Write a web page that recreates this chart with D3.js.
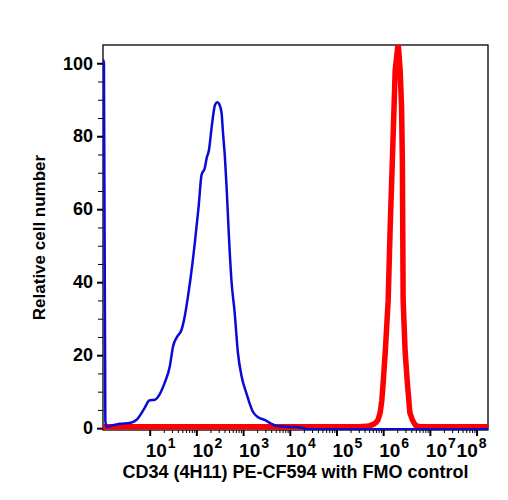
<!DOCTYPE html>
<meta charset="utf-8">
<script src="https://d3js.org/d3.v7.min.js"></script>
<body style="margin:0;background:#fff">
    <div id="viz"></div>
</body>
<style>
    text { font-family: "Liberation Sans", Arial, sans-serif; font-weight: bold; fill: #000; }
</style>
<script>
    // FMO control (blue) : log10 intensity and relative count
    let fmoLogX = [0.00, 0.02, 0.05, 0.08, 0.21, 0.36, 0.57, 0.72, 0.89, 0.99, 1.11, 1.21, 1.32, 1.43, 1.50,
        1.59, 1.68, 1.75, 1.82, 1.87, 1.96, 2.05, 2.11, 2.18, 2.22, 2.27, 2.32, 2.36, 2.40, 2.45, 2.49,
        2.54, 2.57, 2.61, 2.65, 2.69, 2.75, 2.82, 2.89, 2.97, 3.07, 3.21, 3.32, 3.46, 3.61, 3.72, 3.90,
        4.10, 4.25, 4.40, 5.50, 7.00, 8.30];
    let fmoY = [101, 100, 2, 0.4, 0.8, 1.2, 1.4, 2.3, 5.5, 7.6, 7.8, 9.2, 12.4, 16.9, 22.4,
        25.1, 26.9, 30.6, 36.1, 40.6, 50, 61, 69.4, 71.3, 74, 76.3, 81.7, 85.8, 88.6, 89.3, 88.8,
        86.3, 80.9, 74.4, 65.3, 54.3, 40.6, 31.6, 20.6, 14.1, 9.6, 4.5, 3.0, 2.3, 1.2, 0.6, 0.4,
        0.3, 0.1, -0.3, -0.3, -0.3, -0.3];

    // CD34 stained (red)
    let stainLogX = [0.00, 4.00, 5.50, 5.62, 5.72, 5.80, 5.85, 5.89, 5.935, 5.97, 6.00, 6.05, 6.107,
        6.15, 6.197, 6.233, 6.257, 6.321, 6.364, 6.394, 6.411, 6.428, 6.47, 6.518, 6.572, 6.625, 6.657,
        6.70, 6.78, 8.30];
    let stainY = [0.4, 0.4, 0.4, 0.5, 0.7, 1.1, 1.6, 2.3, 4.2, 7.5, 12.4, 22, 35,
        55, 73.5, 88, 98, 105.5, 98, 88, 73.5, 35, 21, 12.4, 4.2, 2.3, 1.5,
        0.7, 0.4, 0.4];

    let yTicks = [0, 20, 40, 60, 80, 100];
    let xDecades = [1, 2, 3, 4, 5, 6, 7, 8];
    let xTitle = "CD34 (4H11) PE-CF594 with FMO control";
    let yTitle = "Relative cell number";

    let width = 508, height = 500;
    let plot = {left: 103, right: 488, top: 45, bottom: 430};

    let svg = d3.select("#viz").append("svg")
        .attr("width", width)
        .attr("height", height);

    let x = d3.scaleLog()
        .domain([1, Math.pow(10, 8.245)])
        .range([plot.left, plot.right]);
    let y = d3.scaleLinear()
        .domain([-0.5, 105])
        .range([plot.bottom, plot.top]);

    svg.append("clipPath").attr("id", "clip")
        .append("rect")
        .attr("x", plot.left).attr("y", plot.top)
        .attr("width", plot.right - plot.left)
        .attr("height", plot.bottom - plot.top);

    // frame
    svg.append("rect")
        .attr("x", plot.left).attr("y", plot.top)
        .attr("width", plot.right - plot.left)
        .attr("height", plot.bottom - plot.top)
        .style("fill", "none")
        .style("stroke", "#000")
        .style("stroke-width", 1.3);

    // y axis
    let yMinor = d3.range(0, 101, 5).filter(d => d % 20 != 0);
    svg.append("g")
        .attr("transform", `translate(${plot.left},0)`)
        .call(d3.axisLeft(y).tickValues(yMinor).tickSize(5).tickFormat(""));
    let yAxis = svg.append("g")
        .attr("transform", `translate(${plot.left},0)`)
        .call(d3.axisLeft(y).tickValues(yTicks).tickSize(6).tickPadding(4));
    yAxis.selectAll(".tick line").attr("stroke-width", 2);
    yAxis.selectAll(".tick text")
        .style("font-size", "18px")
        .style("font-family", "Liberation Sans, Arial, sans-serif")
        .style("font-weight", "bold");
    svg.selectAll(".domain").remove();

    // x axis
    let xMinor = [];
    xDecades.forEach(function(d) {
        for (let k = 2; k < 10; k++) {
            let v = k * Math.pow(10, d);
            if (v < x.domain()[1]) xMinor.push(v);
        }
    });
    let xMajor = xDecades.map(d => Math.pow(10, d));
    svg.append("g")
        .attr("transform", `translate(0,${plot.bottom})`)
        .call(d3.axisBottom(x).tickValues(xMinor).tickSize(3).tickFormat(""))
        .select(".domain").remove();
    let xAxis = svg.append("g")
        .attr("transform", `translate(0,${plot.bottom})`)
        .call(d3.axisBottom(x).tickValues(xMajor).tickSize(6).tickFormat(""));
    xAxis.select(".domain").remove();
    xAxis.selectAll(".tick line").attr("stroke-width", 2);

    let xLabels = svg.append("g").selectAll("text")
        .data(xDecades)
        .enter()
        .append("text")
            .attr("x", (d, i) => i == xDecades.length - 1 ? x(Math.pow(10, d)) + 10 : x(Math.pow(10, d)) - 4)
            .attr("y", 457)
            .attr("text-anchor", (d, i) => i == xDecades.length - 1 ? "end" : "start")
            .style("font-size", "19px");
    xLabels.append("tspan").text("10");
    xLabels.append("tspan")
        .attr("dy", -9)
        .attr("dx", 1)
        .style("font-size", "14px")
        .text(d => d);

    // curves
    let line = d3.line()
        .x(d => x(Math.pow(10, d[0])))
        .y(d => y(d[1]));

    let stain = stainLogX.map((d, i) => [d, stainY[i]]);
    let fmo = fmoLogX.map((d, i) => [d, fmoY[i]]);

    let curves = svg.append("g").attr("clip-path", "url(#clip)");
    curves.append("path")
        .datum(stain)
        .attr("d", line.curve(d3.curveLinear))
        .style("fill", "none")
        .style("stroke", "#ff0000")
        .style("stroke-width", 5.5)
        .style("stroke-linejoin", "round");
    curves.append("path")
        .datum(fmo)
        .attr("d", line.curve(d3.curveMonotoneX))
        .style("fill", "none")
        .style("stroke", "#0a0ad8")
        .style("stroke-width", 2.5)
        .style("stroke-linejoin", "round");

    // titles
    svg.append("text")
        .attr("x", (plot.left + plot.right) / 2)
        .attr("y", 478)
        .attr("text-anchor", "middle")
        .style("font-size", "18px")
        .text(xTitle);
    svg.append("text")
        .attr("transform", `translate(45,${(plot.top + plot.bottom) / 2}) rotate(-90)`)
        .attr("text-anchor", "middle")
        .style("font-size", "17px")
        .text(yTitle);
</script>
